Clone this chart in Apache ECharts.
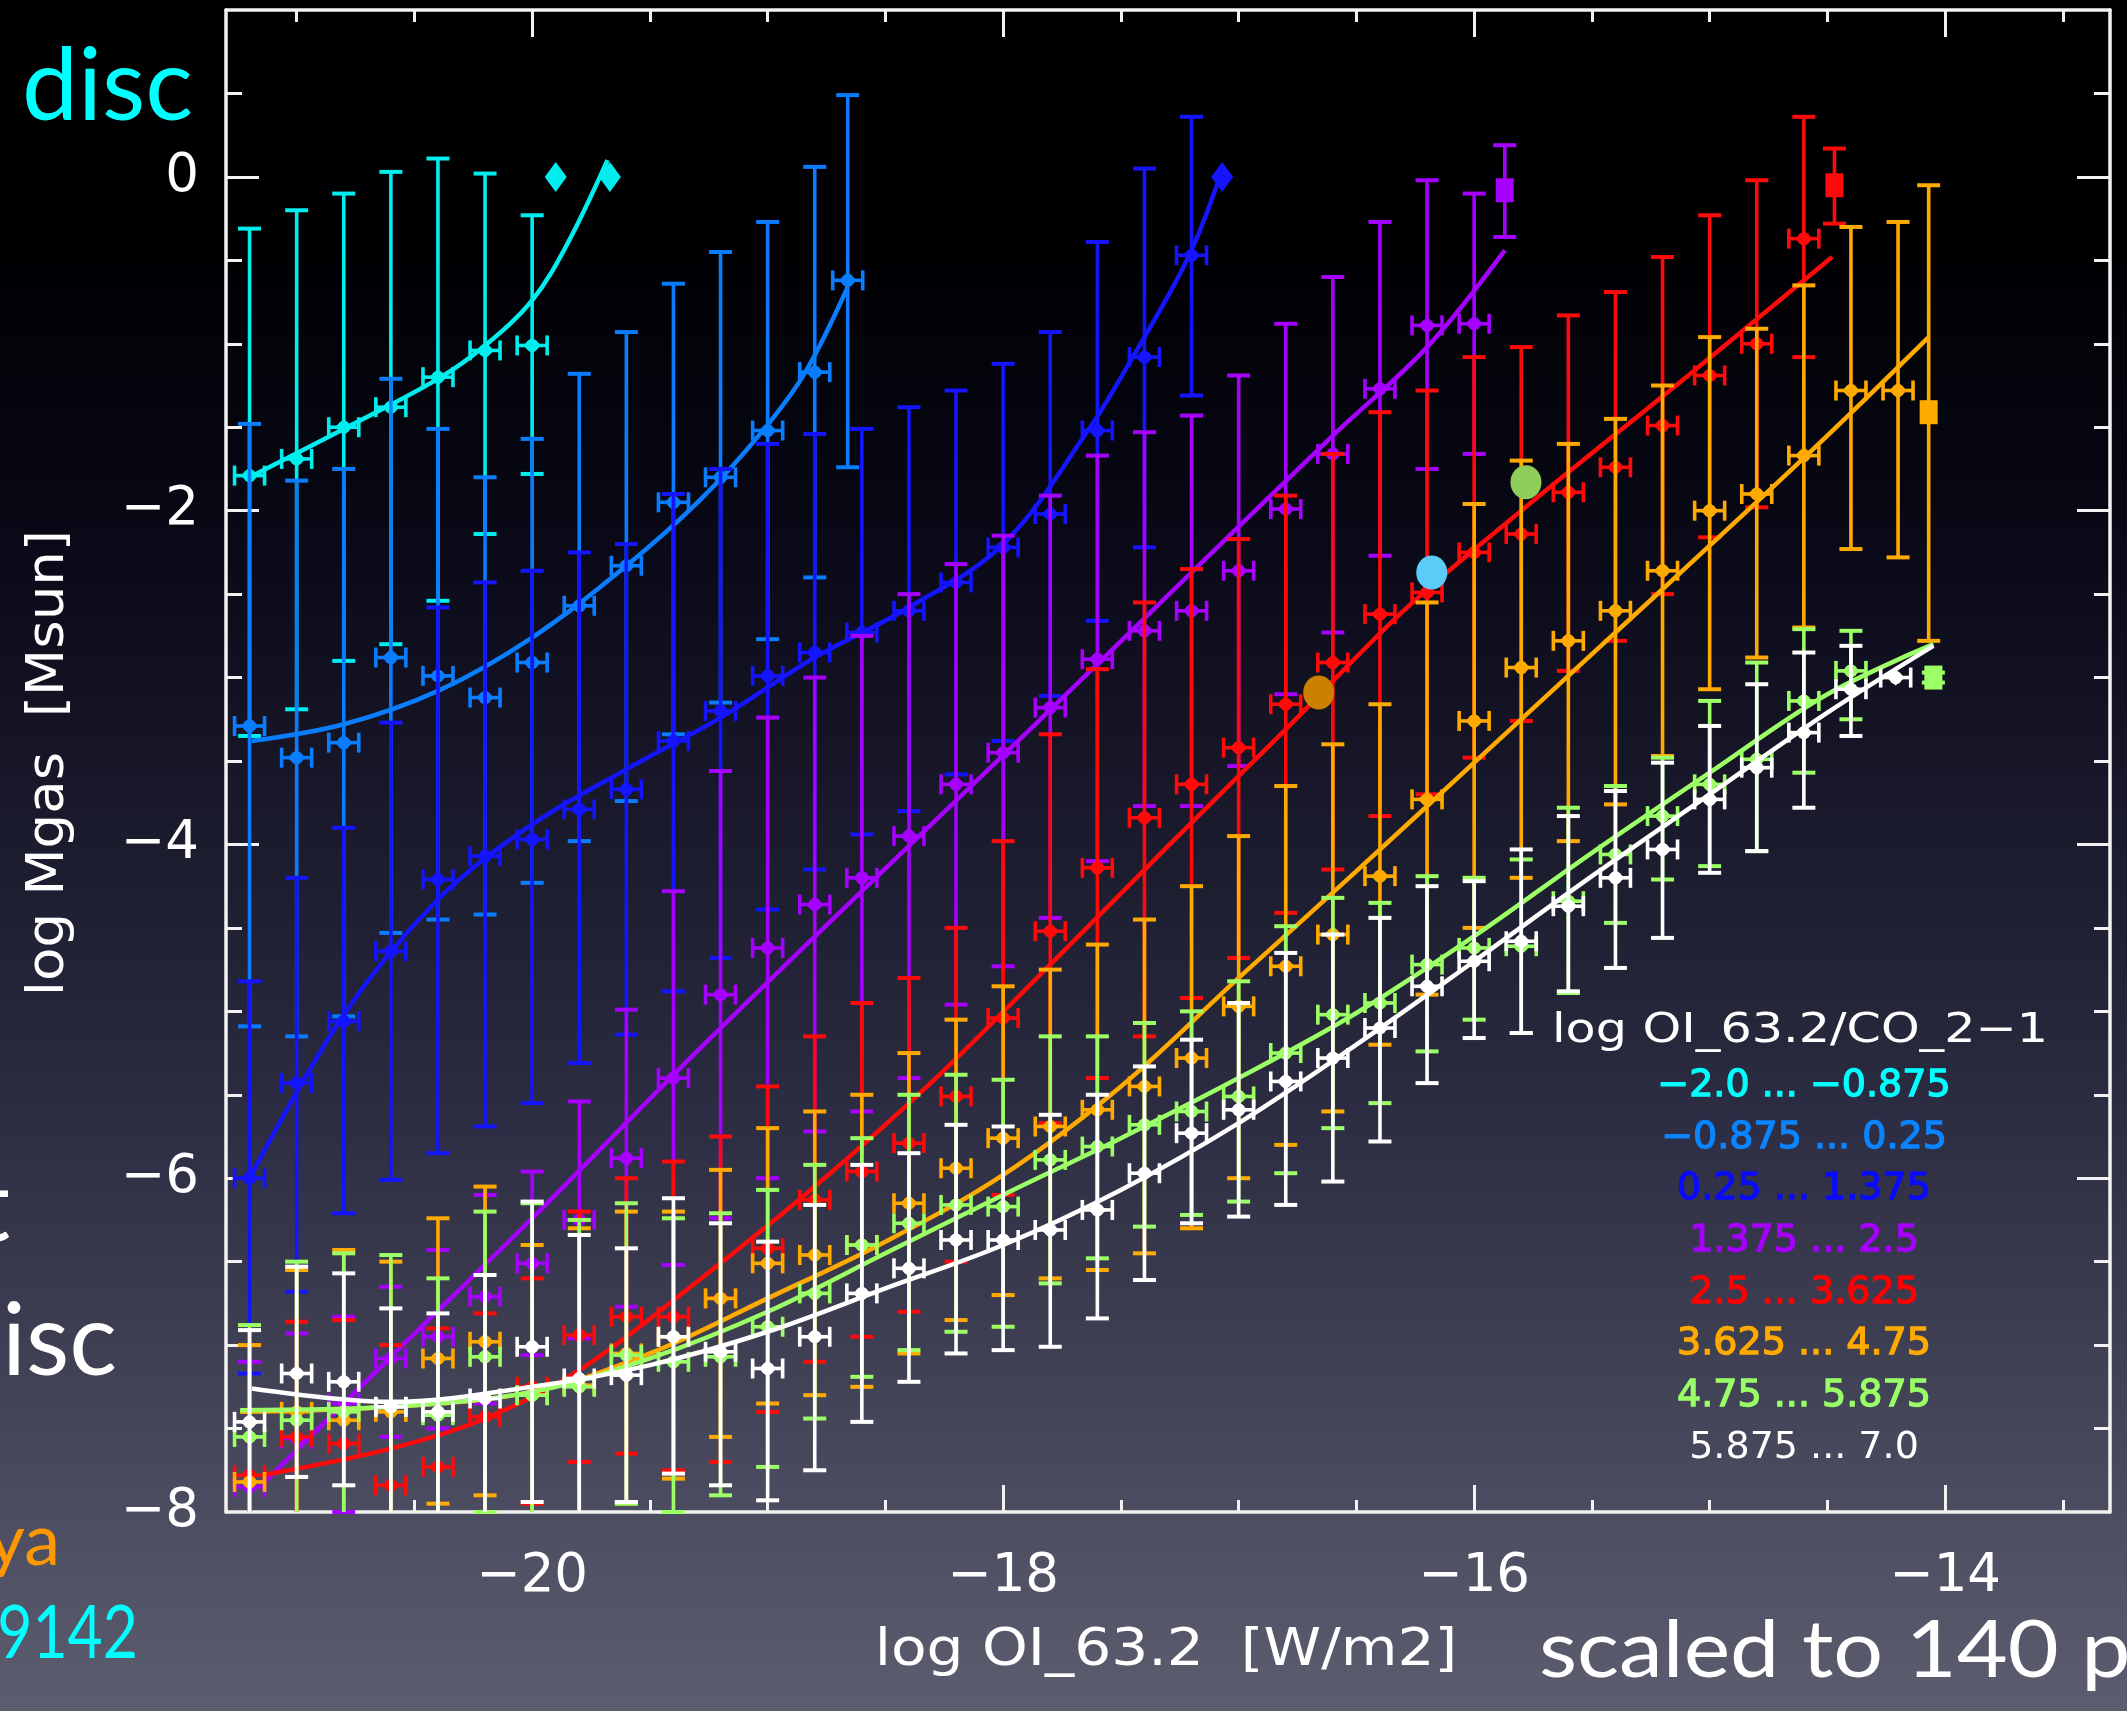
<!DOCTYPE html>
<html><head><meta charset="utf-8">
<script src="https://cdn.jsdelivr.net/npm/echarts@6/dist/echarts.min.js"></script>
<style>html,body{margin:0;padding:0;background:#000;}#c{width:2127px;height:1711px;}</style>
</head><body><div id="c"></div>
<script>
// ---------------- DATA ----------------
const xTickLabels = [-20, -18, -16, -14];
const xMinorTicks = [-21, -20.5, -19.5, -19, -18.5, -17.5, -17, -16.5, -15.5, -15, -14.5, -13.5];
const yTickLabels = [0, -2, -4, -6, -8];
const yMajorTicks = [0, -2, -4, -6];
const yMinorTicks = [0.5, -0.5, -1, -1.5, -2.5, -3, -3.5, -4.5, -5, -5.5, -6.5, -7, -7.5];

const legendTitle = 'log OI_63.2/CO_2\u22121';
const legendLabels = ['\u22122.0 ... \u22120.875', '\u22120.875 ... 0.25', '0.25 ... 1.375', '1.375 ... 2.5',
  '2.5 ... 3.625', '3.625 ... 4.75', '4.75 ... 5.875', '5.875 ... 7.0'];

// bin 1: -2.0 ... -0.875
const cyanX  = [-21.2, -21.0, -20.8, -20.6, -20.4, -20.2, -20.0];
const cyanY  = [-1.79, -1.69, -1.50, -1.38, -1.20, -1.04, -1.01];
const cyanHi = [-0.31, -0.20, -0.10, 0.03, 0.11, 0.02, -0.23];
const cyanLo = [-3.35, -3.19, -2.90, -2.80, -2.54, -2.14, -1.78];
const cyanEnd = [[-19.90, 0.0], [-19.67, 0.0]];
const cyanFit = [[-21.2, -1.80], [-20.8, -1.51], [-20.4, -1.21], [-20.2, -1.01], [-20.0, -0.74], [-19.85, -0.40], [-19.68, 0.10]];

// bin 2: -0.875 ... 0.25
const azureX  = [-21.2, -21.0, -20.8, -20.6, -20.4, -20.2, -20.0, -19.8, -19.6, -19.4, -19.2, -19.0, -18.8, -18.66];
const azureY  = [-3.29, -3.48, -3.39, -2.88, -2.99, -3.12, -2.91, -2.57, -2.33, -1.95, -1.80, -1.52, -1.17, -0.62];
const azureHi = [-1.48, -1.82, -1.75, -1.21, -1.51, -1.80, -1.57, -1.18, -0.93, -0.64, -0.45, -0.27, 0.06, 0.49];
const azureLo = [-5.09, -5.15, -5.03, -4.53, -4.45, -4.42, -4.23, -3.98, -3.74, -3.34, -3.15, -2.77, -2.40, -1.74];
const azureFit = [[-21.19, -3.38], [-20.8, -3.28], [-20.4, -3.08], [-20.0, -2.76], [-19.6, -2.33], [-19.29, -1.94], [-19.02, -1.52], [-18.84, -1.17], [-18.66, -0.66]];

// bin 3: 0.25 ... 1.375
const blueX  = [-21.2, -21.0, -20.8, -20.6, -20.4, -20.2, -20.0, -19.8, -19.6, -19.4, -19.2, -19.0, -18.8, -18.6, -18.4, -18.2, -18.0, -17.8, -17.6, -17.4, -17.2];
const blueY  = [-6.00, -5.43, -5.06, -4.64, -4.21, -4.07, -3.97, -3.79, -3.67, -3.38, -3.20, -2.99, -2.85, -2.73, -2.60, -2.43, -2.22, -2.02, -1.52, -1.08, -0.47];
const blueHi = [-4.82, -4.20, -3.90, -3.27, -2.58, -2.43, -2.36, -2.25, -2.20, -1.90, -1.75, -1.60, -1.54, -1.51, -1.38, -1.28, -1.12, -0.93, -0.39, 0.05, 0.36];
const blueLo = [-7.17, -6.68, -6.21, -6.01, -5.85, -5.69, -5.55, -5.31, -5.14, -4.88, -4.68, -4.39, -4.15, -3.94, -3.80, -3.58, -3.38, -3.11, -2.66, -2.22, -1.31];
const blueEnd = [[-17.07, 0.0]];
const blueFit = [[-21.2, -6.0], [-20.8, -5.02], [-20.4, -4.33], [-20.0, -3.88], [-19.6, -3.55], [-19.2, -3.24], [-18.8, -2.88], [-18.4, -2.58], [-18.0, -2.20], [-17.64, -1.52], [-17.45, -1.08], [-17.22, -0.50], [-17.08, 0.0]];

// bin 4: 1.375 ... 2.5
const purpleX  = [-21.2, -21.0, -20.8, -20.6, -20.4, -20.2, -20.0, -19.8, -19.6, -19.4, -19.2, -19.0, -18.8, -18.6, -18.4, -18.2, -18.0, -17.8, -17.6, -17.4, -17.2, -17.0, -16.8, -16.6, -16.4, -16.2, -16.0];
const purpleY  = [-7.85, -7.56, -7.35, -7.08, -6.95, -6.71, -6.51, -6.25, -5.88, -5.40, -4.90, -4.62, -4.36, -4.20, -3.95, -3.64, -3.45, -3.18, -2.89, -2.72, -2.60, -2.36, -1.99, -1.66, -1.27, -0.89, -0.88];
const purpleHi = [-7.10, -6.93, -6.83, -6.65, -6.43, -6.10, -5.96, -5.54, -4.99, -4.28, -3.56, -3.24, -3.00, -2.75, -2.50, -2.32, -2.15, -1.91, -1.67, -1.53, -1.43, -1.19, -0.88, -0.60, -0.27, -0.02, -0.10];
const purpleLo = [-8.60, -8.20, -8.00, -7.55, -7.50, -7.35, -7.06, -6.96, -6.77, -6.52, -6.24, -6.00, -5.72, -5.60, -5.40, -4.96, -4.73, -4.44, -4.10, -3.77, -3.77, -3.53, -3.10, -2.73, -2.27, -1.75, -1.66];
const purpleSq = [[-15.87, -0.08, -0.36, 0.19]];
const purpleFit = [[-21.15, -7.84], [-20.6, -7.07], [-20.0, -6.24], [-19.3, -5.24], [-18.6, -4.28], [-17.9, -3.33], [-17.2, -2.37], [-16.6, -1.55], [-16.2, -1.02], [-15.87, -0.44]];

// bin 5: 2.5 ... 3.625
const redX  = [-21.2, -21.0, -20.8, -20.6, -20.4, -20.2, -20.0, -19.8, -19.6, -19.4, -19.2, -19.0, -18.8, -18.6, -18.4, -18.2, -18.0, -17.8, -17.6, -17.4, -17.2, -17.0, -16.8, -16.6, -16.4, -16.2, -16.0, -15.8, -15.6, -15.4, -15.2, -15.0, -14.8, -14.6];
const redY  = [-7.78, -7.55, -7.59, -7.84, -7.73, -7.43, -7.25, -6.94, -6.83, -6.83, -6.72, -6.42, -6.13, -5.96, -5.79, -5.51, -5.04, -4.52, -4.14, -3.84, -3.64, -3.42, -3.16, -2.91, -2.62, -2.49, -2.25, -2.14, -1.89, -1.74, -1.49, -1.19, -1.00, -0.37];
const redHi = [-7.00, -6.86, -6.85, -7.00, -6.90, -6.81, -6.60, -6.20, -6.00, -5.90, -5.75, -5.45, -5.15, -4.95, -4.80, -4.50, -3.98, -3.34, -2.95, -2.55, -2.35, -2.17, -1.91, -1.66, -1.41, -1.28, -1.08, -1.02, -0.83, -0.69, -0.48, -0.23, -0.02, 0.36];
const redLo = [-8.50, -8.30, -8.30, -8.60, -8.50, -8.10, -7.95, -7.70, -7.65, -7.75, -7.70, -7.40, -7.10, -6.95, -6.80, -6.50, -6.10, -5.67, -5.40, -5.15, -4.92, -4.68, -4.41, -4.15, -3.83, -3.70, -3.48, -3.26, -2.96, -2.78, -2.50, -2.16, -1.98, -1.08];
const redSq = [[-14.47, -0.05, -0.28, 0.17]];
const redFit = [[-21.15, -7.78], [-20.6, -7.62], [-20.2, -7.44], [-19.8, -7.15], [-19.3, -6.62], [-18.8, -6.05], [-18.3, -5.42], [-17.8, -4.72], [-17.3, -4.01], [-16.8, -3.31], [-16.3, -2.60], [-15.8, -2.00], [-15.1, -1.20], [-14.48, -0.48]];

// bin 6: 3.625 ... 4.75
const orangeX  = [-21.2, -21.0, -20.8, -20.6, -20.4, -20.2, -20.0, -19.8, -19.6, -19.4, -19.2, -19.0, -18.8, -18.6, -18.4, -18.2, -18.0, -17.8, -17.6, -17.4, -17.2, -17.0, -16.8, -16.6, -16.4, -16.2, -16.0, -15.8, -15.6, -15.4, -15.2, -15.0, -14.8, -14.6, -14.4, -14.2];
const orangeY  = [-7.82, -7.40, -7.45, -7.40, -7.08, -6.98, -7.30, -7.24, -7.05, -6.95, -6.72, -6.51, -6.46, -6.40, -6.15, -5.94, -5.76, -5.69, -5.59, -5.45, -5.28, -4.97, -4.73, -4.54, -4.19, -3.73, -3.26, -2.94, -2.78, -2.60, -2.36, -2.00, -1.90, -1.67, -1.28, -1.28];
const orangeHi = [-7.00, -6.55, -6.43, -6.50, -6.24, -6.05, -6.40, -6.30, -6.20, -6.20, -5.95, -5.70, -5.60, -5.50, -5.25, -5.05, -4.85, -4.75, -4.60, -4.45, -4.25, -3.95, -3.65, -3.40, -3.16, -2.55, -1.96, -1.70, -1.60, -1.45, -1.25, -0.96, -0.91, -0.65, -0.30, -0.27];
const orangeLo = [-8.60, -8.30, -8.30, -8.30, -7.95, -7.90, -8.20, -8.10, -7.95, -7.80, -7.55, -7.35, -7.30, -7.25, -7.05, -6.85, -6.70, -6.60, -6.55, -6.45, -6.30, -6.00, -5.80, -5.60, -5.20, -4.90, -4.50, -4.20, -3.98, -3.76, -3.47, -3.07, -2.88, -2.70, -2.23, -2.28];
const orangeSq = [[-14.07, -1.41, -2.78, -0.05]];
const orangeFit = [[-21.24, -7.40], [-20.6, -7.37], [-20.0, -7.28], [-19.5, -7.05], [-19.0, -6.72], [-18.5, -6.38], [-18.0, -5.98], [-17.5, -5.45], [-17.0, -4.80], [-16.5, -4.16], [-16.0, -3.51], [-15.5, -2.86], [-15.0, -2.21], [-14.5, -1.55], [-14.07, -0.96]];

// bin 7: 4.75 ... 5.875
const greenX  = [-21.2, -21.0, -20.8, -20.6, -20.4, -20.2, -20.0, -19.8, -19.6, -19.4, -19.2, -19.0, -18.8, -18.6, -18.4, -18.2, -18.0, -17.8, -17.6, -17.4, -17.2, -17.0, -16.8, -16.6, -16.4, -16.2, -16.0, -15.8, -15.6, -15.4, -15.2, -15.0, -14.8, -14.6, -14.4];
const greenY  = [-7.55, -7.45, -7.40, -7.37, -7.42, -7.07, -7.30, -7.25, -7.06, -7.10, -7.07, -6.89, -6.69, -6.40, -6.27, -6.16, -6.17, -5.89, -5.81, -5.68, -5.60, -5.51, -5.25, -5.02, -4.95, -4.72, -4.62, -4.61, -4.34, -4.06, -3.83, -3.64, -3.49, -3.14, -2.96];
const greenHi = [-6.88, -6.50, -6.45, -6.46, -6.60, -6.20, -6.15, -6.25, -6.15, -6.24, -6.21, -6.07, -5.92, -5.76, -5.50, -5.38, -5.41, -5.15, -5.15, -5.07, -5.00, -4.82, -4.49, -4.32, -4.35, -4.19, -4.20, -4.09, -3.78, -3.65, -3.48, -3.14, -2.91, -2.71, -2.72];
const greenLo = [-8.30, -8.30, -8.30, -8.30, -8.20, -8.00, -8.20, -8.10, -7.95, -8.00, -7.90, -7.73, -7.44, -7.19, -7.03, -6.92, -6.89, -6.63, -6.48, -6.29, -6.22, -6.14, -5.97, -5.70, -5.55, -5.24, -5.05, -5.13, -4.89, -4.47, -4.21, -4.13, -4.04, -3.57, -3.25];
const greenSq = [[-14.05, -3.0, -3.03, -2.97]];
const greenFit = [[-21.24, -7.39], [-20.6, -7.37], [-20.0, -7.28], [-19.5, -7.08], [-19.0, -6.80], [-18.5, -6.45], [-18.0, -6.10], [-17.5, -5.76], [-17.0, -5.40], [-16.5, -5.01], [-16.0, -4.55], [-15.5, -4.05], [-15.0, -3.57], [-14.5, -3.10], [-14.05, -2.80]];

// bin 8: 5.875 ... 7.0
const whiteX  = [-21.2, -21.0, -20.8, -20.6, -20.4, -20.2, -20.0, -19.8, -19.6, -19.4, -19.2, -19.0, -18.8, -18.6, -18.4, -18.2, -18.0, -17.8, -17.6, -17.4, -17.2, -17.0, -16.8, -16.6, -16.4, -16.2, -16.0, -15.8, -15.6, -15.4, -15.2, -15.0, -14.8, -14.6, -14.4, -14.21];
const whiteY  = [-7.46, -7.17, -7.22, -7.37, -7.40, -7.32, -7.01, -7.20, -7.18, -6.95, -7.04, -7.14, -6.95, -6.69, -6.54, -6.37, -6.37, -6.31, -6.19, -5.97, -5.73, -5.59, -5.42, -5.28, -5.10, -4.85, -4.70, -4.58, -4.37, -4.20, -4.03, -3.73, -3.54, -3.33, -3.07, -3.00];
const whiteHi = [-6.91, -6.53, -6.57, -6.78, -6.81, -6.58, -6.14, -6.34, -6.42, -6.12, -6.27, -6.38, -6.16, -5.92, -5.85, -5.68, -5.69, -5.62, -5.50, -5.33, -5.17, -4.95, -4.65, -4.54, -4.44, -4.25, -4.22, -4.03, -3.83, -3.68, -3.51, -3.29, -3.04, -2.85, -2.81, -3.00];
const whiteLo = [-8.30, -7.79, -7.84, -8.10, -8.10, -8.10, -7.94, -8.10, -7.94, -7.77, -7.84, -7.93, -7.75, -7.46, -7.22, -7.05, -7.03, -7.01, -6.84, -6.61, -6.27, -6.23, -6.16, -6.02, -5.78, -5.43, -5.16, -5.13, -4.88, -4.74, -4.56, -4.17, -4.04, -3.78, -3.35, -3.00];
const whiteFit = [[-21.19, -7.26], [-20.6, -7.34], [-20.0, -7.25], [-19.5, -7.12], [-19.0, -6.92], [-18.5, -6.66], [-18.0, -6.40], [-17.5, -6.07], [-17.0, -5.67], [-16.5, -5.20], [-16.0, -4.70], [-15.5, -4.19], [-15.0, -3.70], [-14.5, -3.21], [-14.05, -2.81]];

// observed sources
const obsPoints = [[-16.66, -3.09], [-16.18, -2.37], [-15.78, -1.83]];
const obsColors = ['#cc8000', '#5bcbf7', '#8fcd5a'];

// ---------------- CHART ----------------
const X_MIN = -21.3, X_MAX = -13.3, Y_MIN = -8, Y_MAX = 1;
const AX = '#f2f2f2';
const FONT = 'DejaVu Sans';
const COL = ['#00eeee', '#0a7dff', '#1414ff', '#a600ff', '#ff0a0a', '#ffaa00', '#9cff66', '#ffffff'];
const LEG_COL = ['#00ffff', '#0a84ff', '#0a0aff', '#a800ff', '#ff0000', '#ffaa00', '#99ff66', '#ffffff'];

const groups = [
  {x: cyanX, y: cyanY, lo: cyanLo, hi: cyanHi, sq: [], fit: cyanFit, dia: cyanEnd},
  {x: azureX, y: azureY, lo: azureLo, hi: azureHi, sq: [], fit: azureFit, dia: []},
  {x: blueX, y: blueY, lo: blueLo, hi: blueHi, sq: [], fit: blueFit, dia: blueEnd},
  {x: purpleX, y: purpleY, lo: purpleLo, hi: purpleHi, sq: purpleSq, fit: purpleFit, dia: []},
  {x: redX, y: redY, lo: redLo, hi: redHi, sq: redSq, fit: redFit, dia: []},
  {x: orangeX, y: orangeY, lo: orangeLo, hi: orangeHi, sq: orangeSq, fit: orangeFit, dia: []},
  {x: greenX, y: greenY, lo: greenLo, hi: greenHi, sq: greenSq, fit: greenFit, dia: []},
  {x: whiteX, y: whiteY, lo: whiteLo, hi: whiteHi, sq: [], fit: whiteFit, dia: []}
];

function fmt(v) { return v === 0 ? '0' : '\u2212' + Math.abs(v); }

function errSeries(g, color, z) {
  const data = g.x.map((x, i) => [x, g.y[i], g.lo[i], g.hi[i], 0]);
  g.sq.forEach(s => data.push([s[0], s[1], s[2], s[3], 1]));
  return {
    type: 'custom', z: z, silent: true, data: data, encode: {x: 0, y: 1},
    renderItem: function (params, api) {
      const x = api.value(0), y = api.value(1), lo = api.value(2), hi = api.value(3), kind = api.value(4);
      const loC = Math.max(lo, Y_MIN), hiC = Math.min(hi, Y_MAX);
      const p = api.coord([x, y]);
      const pl = api.coord([x, loC]);
      const ph = api.coord([x, hiC]);
      const st = {stroke: color, lineWidth: 3.6};
      const ch = [];
      const cw = 11.5;
      if (pl[1] - ph[1] > 3) {
        ch.push({type: 'line', shape: {x1: p[0], y1: ph[1], x2: p[0], y2: pl[1]}, style: st});
        if (hi <= Y_MAX) ch.push({type: 'line', shape: {x1: p[0] - cw, y1: ph[1], x2: p[0] + cw, y2: ph[1]}, style: {stroke: color, lineWidth: 4}});
        if (lo >= Y_MIN) ch.push({type: 'line', shape: {x1: p[0] - cw, y1: pl[1], x2: p[0] + cw, y2: pl[1]}, style: {stroke: color, lineWidth: 4}});
      }
      if (y >= Y_MIN && y <= Y_MAX) {
        if (kind === 1) {
          ch.push({type: 'rect', shape: {x: p[0] - 9, y: p[1] - 12, width: 18, height: 24}, style: {fill: color}});
        } else {
          const hx = 15, hh = 10;
          ch.push({type: 'line', shape: {x1: p[0] - hx, y1: p[1], x2: p[0] + hx, y2: p[1]}, style: st});
          ch.push({type: 'line', shape: {x1: p[0] - hx, y1: p[1] - hh, x2: p[0] - hx, y2: p[1] + hh}, style: st});
          ch.push({type: 'line', shape: {x1: p[0] + hx, y1: p[1] - hh, x2: p[0] + hx, y2: p[1] + hh}, style: st});
          ch.push({type: 'polygon', shape: {points: [[p[0] - 9, p[1]], [p[0], p[1] - 8], [p[0] + 9, p[1]], [p[0], p[1] + 8]]}, style: {fill: color}});
          ch.push({type: 'circle', shape: {cx: p[0], cy: p[1], r: 6.5}, style: {fill: color}});
        }
      }
      return {type: 'group', children: ch};
    }
  };
}

const series = [];
groups.forEach((g, i) => {
  series.push(errSeries(g, COL[i], 10 + i * 3));
  series.push({type: 'line', data: g.fit, smooth: 0.35, showSymbol: false, symbol: 'none',
    lineStyle: {color: COL[i], width: 4.5}, z: 11 + i * 3, silent: true});
  if (g.dia.length) series.push({type: 'scatter', data: g.dia, symbol: 'diamond', symbolSize: [22, 30],
    itemStyle: {color: COL[i], opacity: 1}, z: 12 + i * 3, silent: true});
});
series.push({type: 'scatter', z: 60, silent: true, symbol: 'circle', symbolSize: [31, 34],
  data: obsPoints.map((p, i) => ({value: p, itemStyle: {color: obsColors[i], opacity: 1}}))});

function xAx(pos, major, showLine, showLabel) {
  return {type: 'value', position: pos, min: X_MIN, max: X_MAX,
    axisLine: {show: showLine, onZero: false, lineStyle: {color: AX, width: 3.5}},
    axisTick: {show: true, inside: true, length: major ? 27 : 12, customValues: major ? xTickLabels : xMinorTicks, lineStyle: {color: AX, width: 3}},
    axisLabel: {show: showLabel, customValues: xTickLabels, formatter: fmt, color: '#ffffff', fontSize: 53, fontFamily: FONT, margin: 39},
    splitLine: {show: false}, minorTick: {show: false}};
}
function yAx(pos, major, showLine, showLabel) {
  return {type: 'value', position: pos, min: Y_MIN, max: Y_MAX,
    axisLine: {show: showLine, onZero: false, lineStyle: {color: AX, width: 3.5}},
    axisTick: {show: true, inside: true, length: major ? 33 : 16, customValues: major ? yMajorTicks : yMinorTicks, lineStyle: {color: AX, width: 3}},
    axisLabel: {show: showLabel, customValues: yTickLabels, formatter: fmt, color: '#ffffff', fontSize: 53, fontFamily: FONT, margin: 27},
    splitLine: {show: false}, minorTick: {show: false}};
}

function txt(text, x, y, size, family, color, align, extra) {
  extra = extra || {};
  const el = {type: 'text', x: x, y: y, z: 100, silent: true,
    style: Object.assign({text: text, fill: color, fontSize: size, fontFamily: family, fontWeight: extra.weight || 'normal',
      align: align, textAlign: align, verticalAlign: 'middle', textVerticalAlign: 'middle'}, extra.style || {})};
  if (extra.scaleX) el.scaleX = extra.scaleX;
  if (extra.rotation) el.rotation = extra.rotation;
  return el;
}

const graphics = [
  {type: 'rect', z: -100, silent: true, shape: {x: 0, y: 0, width: 2127, height: 1711},
    style: {fill: new echarts.graphic.LinearGradient(0, 0, 0, 1, [
      {offset: 0, color: '#000000'}, {offset: 0.15, color: '#000003'}, {offset: 0.33, color: '#0a0a19'},
      {offset: 0.65, color: '#2c2c42'}, {offset: 1, color: '#5d5d70'}])}},
  // axis titles
  txt('log OI_63.2  [W/m2]', 1166, 1651, 52, FONT, '#ffffff', 'center', {scaleX: 1.12}),
  txt('log Mgas  [Msun]', 49, 763, 52, FONT, '#ffffff', 'center', {scaleX: 1.05, rotation: Math.PI / 2}),
  // legend
  txt(legendTitle, 1800, 1031, 41, FONT, '#ffffff', 'center', {scaleX: 1.2})
];
legendLabels.forEach((l, i) => {
  graphics.push(txt(l, 1804, 1086 + i * 51.7, 38, FONT, LEG_COL[i], 'center',
    {style: i < 7 ? {stroke: LEG_COL[i], lineWidth: 1.3} : {}}));
});
// slide texts around the chart
graphics.push(txt('disc', 22, 88, 100, 'Lato', '#00ffff', 'left'));
graphics.push(txt('t', 10, 1209, 100, 'Lato', '#ffffff', 'right'));
graphics.push(txt('isc', 2, 1343, 100, 'Lato', '#ffffff', 'left'));
graphics.push(txt('ya', 60, 1542, 72, 'Lato', '#ff9800', 'right'));
graphics.push(txt('9142', 138, 1634, 74, 'Lato', '#00ffff', 'right', {scaleX: 0.82}));
graphics.push(txt('scaled to 140 p', 1539, 1651, 80, 'Lato', '#ffffff', 'left', {scaleX: 1.1}));

const chart = echarts.init(document.getElementById('c'), null, {renderer: 'canvas'});
chart.setOption({
  animation: false,
  backgroundColor: 'transparent',
  textStyle: {fontFamily: FONT},
  grid: {left: 226, right: 17, top: 10, bottom: 199, containLabel: false, outerBoundsMode: 'none'},
  xAxis: [xAx('bottom', true, true, true), xAx('bottom', false, false, false), xAx('top', true, true, false), xAx('top', false, false, false)],
  yAxis: [yAx('left', true, true, true), yAx('left', false, false, false), yAx('right', true, true, false), yAx('right', false, false, false)],
  graphic: graphics,
  series: series
});
</script></body></html>
